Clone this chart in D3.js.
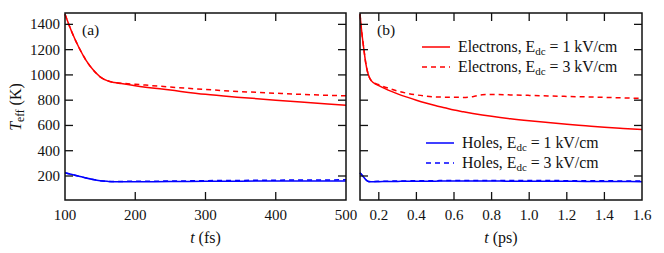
<!DOCTYPE html>
<html>
<head>
<meta charset="utf-8">
<script src="https://cdn.jsdelivr.net/npm/d3@7"></script>
<style>
  body { margin: 0; background: #fff; }
</style>
</head>
<body>
<div id="chart"></div>
<script>
(function(){
  var width = 664;
  var height = 253;

  // panel (a): time in fs
  var tA = [100, 110, 120, 130, 140, 150, 160, 170, 180, 200, 250, 300, 350, 400, 450, 500];
  var elecA1 = [1480, 1335, 1215, 1115, 1040, 985, 955, 940, 932, 915, 880, 846, 822, 800, 780, 760];
  var elecA3 = [1480, 1335, 1215, 1115, 1040, 985, 955, 940, 935, 926, 904, 885, 868, 855, 843, 835];
  var holeA1 = [225, 212, 198, 184, 172, 163, 158, 155, 155, 155, 156, 158, 159, 160, 160, 160];
  var holeA3 = [225, 212, 198, 184, 172, 163, 158, 156, 157, 158, 160, 163, 165, 167, 168, 170];

  // panel (b): time in ps
  var tB = [0.1, 0.11, 0.12, 0.13, 0.14, 0.15, 0.16, 0.17, 0.2, 0.25, 0.3, 0.35, 0.4, 0.45, 0.5, 0.55, 0.6, 0.65, 0.7, 0.75, 0.8, 0.9, 1.0, 1.1, 1.2, 1.3, 1.4, 1.5, 1.6];
  var elecB1 = [1480, 1330, 1210, 1100, 1025, 980, 955, 940, 915, 880, 850, 824, 800, 778, 758, 740, 722, 708, 695, 683, 672, 653, 637, 623, 610, 598, 586, 576, 567];
  var elecB3 = [1480, 1330, 1210, 1100, 1025, 980, 955, 942, 922, 895, 872, 855, 842, 832, 826, 824, 823, 822, 828, 843, 845, 842, 838, 834, 830, 826, 822, 818, 814];
  var holeB1 = [225, 208, 190, 172, 160, 155, 154, 154, 155, 156, 157, 158, 158, 159, 159, 160, 160, 160, 160, 160, 160, 159, 159, 158, 158, 157, 156, 156, 155];
  var holeB3 = [225, 208, 190, 172, 160, 156, 156, 157, 158, 159, 160, 161, 162, 163, 163, 164, 164, 165, 165, 165, 165, 165, 164, 164, 163, 163, 162, 161, 160];

  var yTicks = [200, 400, 600, 800, 1000, 1200, 1400];
  var xTicksA = [100, 200, 300, 400, 500];
  var xTicksB = [0.2, 0.4, 0.6, 0.8, 1.0, 1.2, 1.4, 1.6];

  var red = "#ff0000", blue = "#0000ff";

  var svg = d3.select("#chart")
    .append("svg")
    .attr("width", width)
    .attr("height", height)
    .attr("font-family", "Liberation Serif");

  function txt(sel) {
    return sel.append("text")
      .attr("font-family", "Liberation Serif")
      .style("font-family", "Liberation Serif")
      .attr("fill", "#111");
  }

  var y = d3.scaleLinear().domain([10, 1490]).range([200, 13]);

  function panel(x0, x1, domain, xTicks, fmt, tt, series, tag, xunit) {
    var x = d3.scaleLinear().domain(domain).range([x0, x1]);
    var g = svg.append("g");

    // data lines
    series.forEach(function(s) {
      var line = d3.line()
        .curve(d3.curveMonotoneX)
        .x(function(d, i) { return x(tt[i]); })
        .y(function(d) { return y(d); });
      g.append("path")
        .attr("d", line(s.values))
        .attr("fill", "none")
        .attr("stroke", s.color)
        .attr("stroke-width", 1.5)
        .attr("stroke-dasharray", s.dash ? "5,4" : null);
    });

    // inward ticks on all sides
    var inner = xTicks.filter(function(v) { return x(v) > x0 + 1 && x(v) < x1 - 1; });
    inner.forEach(function(v) {
      g.append("line").attr("x1", x(v)).attr("x2", x(v)).attr("y1", 200).attr("y2", 192)
        .attr("stroke", "#111").attr("stroke-width", 1.3);
      g.append("line").attr("x1", x(v)).attr("x2", x(v)).attr("y1", 13).attr("y2", 21)
        .attr("stroke", "#111").attr("stroke-width", 1.3);
    });
    yTicks.forEach(function(v) {
      g.append("line").attr("x1", x0).attr("x2", x0 + 8).attr("y1", y(v)).attr("y2", y(v))
        .attr("stroke", "#111").attr("stroke-width", 1.3);
      g.append("line").attr("x1", x1).attr("x2", x1 - 8).attr("y1", y(v)).attr("y2", y(v))
        .attr("stroke", "#111").attr("stroke-width", 1.3);
    });

    g.append("rect")
      .attr("x", x0).attr("y", 13)
      .attr("width", x1 - x0).attr("height", 187)
      .attr("fill", "none").attr("stroke", "#111").attr("stroke-width", 1.5);

    xTicks.forEach(function(v) {
      txt(g)
        .attr("x", x(v)).attr("y", 220)
        .attr("text-anchor", "middle")
        .attr("font-size", 15)
        .text(fmt(v));
    });

    txt(g)
      .attr("x", x0 + 17).attr("y", 35)
      .attr("font-size", 15.5)
      .text(tag);

    var xl = txt(g)
      .attr("x", (x0 + x1) / 2).attr("y", 243)
      .attr("text-anchor", "middle")
      .attr("font-size", 16);
    xl.append("tspan").attr("font-style", "italic").text("t");
    xl.append("tspan").text(" (" + xunit + ")");

    return x;
  }

  panel(65, 346, [100, 500], xTicksA, d3.format("d"), tA, [
    { values: elecA3, color: red, dash: true },
    { values: elecA1, color: red, dash: false },
    { values: holeA3, color: blue, dash: true },
    { values: holeA1, color: blue, dash: false }
  ], "(a)", "fs");

  panel(360, 642, [0.1, 1.6], xTicksB, d3.format(".1f"), tB, [
    { values: elecB3, color: red, dash: true },
    { values: elecB1, color: red, dash: false },
    { values: holeB3, color: blue, dash: true },
    { values: holeB1, color: blue, dash: false }
  ], "(b)", "ps");

  // y tick labels (left of panel a)
  yTicks.forEach(function(v) {
    txt(svg)
      .attr("x", 60).attr("y", y(v) + 5)
      .attr("text-anchor", "end")
      .attr("font-size", 15)
      .text(v);
  });

  // y axis title
  var yl = txt(svg)
    .attr("transform", "translate(21,107) rotate(-90)")
    .attr("text-anchor", "middle")
    .attr("font-size", 16);
  yl.append("tspan").attr("font-style", "italic").text("T");
  yl.append("tspan").attr("font-size", 11.5).attr("dy", 3).text("eff");
  yl.append("tspan").attr("dy", -3).text(" (K)");

  // legend
  var legend = [
    { name: "Electrons", field: "1", color: red, dash: false, lx: 422, ly: 47 },
    { name: "Electrons", field: "3", color: red, dash: true, lx: 422, ly: 67 },
    { name: "Holes", field: "1", color: blue, dash: false, lx: 426, ly: 143 },
    { name: "Holes", field: "3", color: blue, dash: true, lx: 426, ly: 163 }
  ];
  legend.forEach(function(d) {
    svg.append("line")
      .attr("x1", d.lx).attr("x2", d.lx + 28)
      .attr("y1", d.ly).attr("y2", d.ly)
      .attr("stroke", d.color).attr("stroke-width", 1.5)
      .attr("stroke-dasharray", d.dash ? "5,4" : null);
    var t = txt(svg)
      .attr("x", d.lx + 36).attr("y", d.ly + 5)
      .attr("font-size", 15.8);
    t.append("tspan").text(d.name + ", E");
    t.append("tspan").attr("font-size", 11).attr("dy", 3).text("dc");
    t.append("tspan").attr("dy", -3).text(" = " + d.field + " kV/cm");
  });
})();
</script>
</body>
</html>
